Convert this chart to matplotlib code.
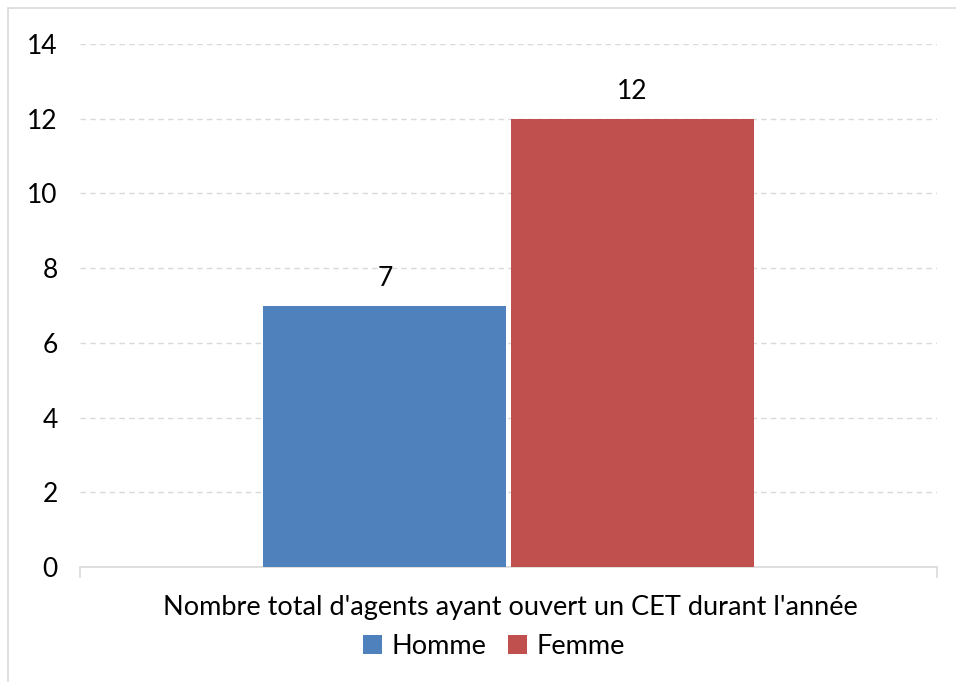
import matplotlib.pyplot as plt
from matplotlib.patches import Rectangle

plt.rcParams['font.family'] = ['Lato', 'DejaVu Sans']

# Data
category = "Nombre total d'agents ayant ouvert un CET durant l'année"
series = ['Homme', 'Femme']
values = [7, 12]
colors = ['#4f81bd', '#c0504d']

fig = plt.figure(figsize=(9.56, 6.82), dpi=100)
ax = fig.add_axes([80 / 956, 1 - 567 / 682, 857 / 956, 523 / 682])

# chart border (left/top edges of the embedded chart frame)
fig.patches.append(Rectangle((8 / 956, -0.01), 1.0, 1 - 8 / 682 + 0.01,
                             transform=fig.transFigure, fill=False,
                             edgecolor='#d9d9d9', linewidth=1.2))

width = 0.2836
gap = 0.0047
offsets = [-(width + gap) / 2, (width + gap) / 2]
for name, val, col, off in zip(series, values, colors, offsets):
    ax.bar(off, val, width=width, color=col, label=name, zorder=3)
    ax.text(off, val + 0.4, str(val), ha='center', va='bottom',
            fontsize=19, color='#000000', zorder=4)

ax.set_xlim(-0.5, 0.5)
ax.set_ylim(0, 14)
ax.set_yticks(range(0, 15, 2))
ax.tick_params(axis='y', length=0, labelsize=19, pad=16)
ax.yaxis.grid(True, linestyle=(0, (4, 3)), color='#d9d9d9', linewidth=1, zorder=0)

for s in ['top', 'right', 'left']:
    ax.spines[s].set_visible(False)
ax.spines['bottom'].set_color('#d9d9d9')
ax.spines['bottom'].set_linewidth(1.2)

ax.set_xticks([-0.5, 0.5])
ax.set_xticklabels(['', ''])
ax.tick_params(axis='x', length=8, color='#d9d9d9', width=1.2)

fig.text(510 / 956, 1 - 607 / 682, category, ha='center', va='center',
         fontsize=19.5)

fig.legend(loc='center', bbox_to_anchor=(494 / 956, 1 - 646 / 682), ncol=2,
           frameon=False, fontsize=19.5, handlelength=0.7, handleheight=0.7,
           handletextpad=0.35, columnspacing=0.8)

fig.savefig('out.png', dpi=100)
